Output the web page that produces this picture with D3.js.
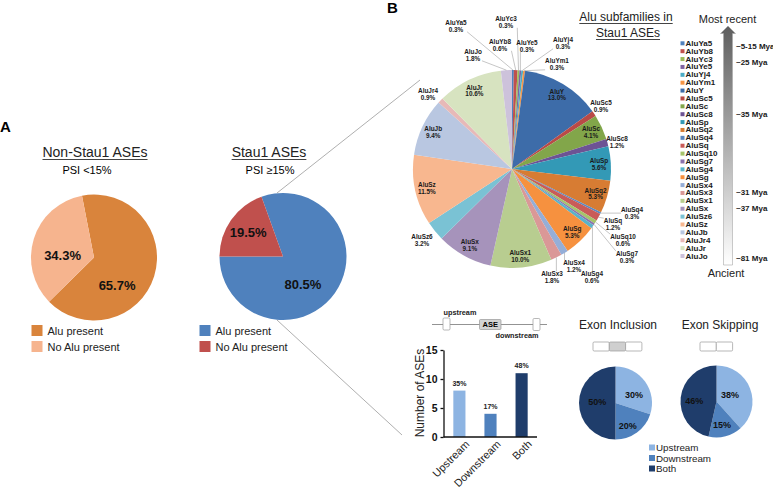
<!DOCTYPE html>
<html><head><meta charset="utf-8">
<script src="https://cdn.jsdelivr.net/npm/d3@7"></script>
<style>
body{margin:0;background:#fff}
svg{display:block;font-family:"Liberation Sans",Arial,sans-serif}
</style>
</head><body>
<svg id="c" width="773" height="492"></svg>
<script>
// ---------------- DATA ----------------
const presenceCats = ["Alu present", "No Alu present"];
const nonStauPct = [65.7, 34.3];
const stauPct = [80.5, 19.5];

const subfamilies = ["AluYa5","AluYb8","AluYc3","AluYe5","AluYj4","AluYm1","AluY","AluSc5","AluSc","AluSc8",
  "AluSp","AluSq2","AluSq4","AluSq","AluSq10","AluSg7","AluSg4","AluSg","AluSx4","AluSx3",
  "AluSx1","AluSx","AluSz6","AluSz","AluJb","AluJr4","AluJr","AluJo"];
const subfamilyPct = [0.3,0.6,0.3,0.3,0.3,0.3,13.0,0.9,4.1,1.2,
  5.6,5.3,0.3,1.2,0.6,0.3,0.6,5.3,1.2,1.8,
  10.0,9.1,3.2,11.5,9.4,0.9,10.6,1.8];
const subfamilyColors = ["#4F81BD","#C0504D","#9BBB59","#8064A2","#4BACC6","#F79646","#3D6CA9","#B94A47","#82A64A","#6D5394",
  "#3399B6","#D77C33","#5A87C0","#C95B58","#A6C46A","#8B72AC","#5AB3CA","#F6913F","#95AED8","#DA9897",
  "#B8CD90","#A693BB","#7AC2D4","#F8B78F","#B9C7E1","#E7B9B8","#D7E3C0","#CDC2DB"];
const myaLabels = ["~5-15 Mya","~25 Mya","~35 Mya","~31 Mya","~37 Mya","~81 Mya"];
const myaRow = [0.45, 2.5, 9.1, 19, 21, 27.3];

const regionCats = ["Upstream","Downstream","Both"];
const regionCounts = [8, 4, 11];
const regionPctLabels = ["35%","17%","48%"];
const yTicks = [0, 5, 10, 15];
const inclusionPct = [30, 20, 50];
const skippingPct = [38, 15, 46];

// ---------------- STYLE / LAYOUT ----------------
const svg = d3.select("#c");
const presenceColorsA = ["#D9843C", "#F6B48E"];
const presenceColorsB = ["#4F81BD", "#C0504D"];
const regionColors = ["#8DB4E2", "#4F81BD", "#1F3D6B"];
const rad = d => d * Math.PI / 180;

function pieChart(cx, cy, r, values, colors, startDeg, labelPolar, fontSize, fmt) {
  const pie = d3.pie().sort(null).value(d => d)
    .startAngle(rad(startDeg)).endAngle(rad(startDeg) + 2 * Math.PI);
  const arc = d3.arc().innerRadius(0).outerRadius(r);
  const g = svg.append("g").attr("transform", `translate(${cx},${cy})`);
  g.selectAll("path").data(pie(values)).join("path")
    .attr("d", arc).attr("fill", (d, i) => colors[i]);
  g.selectAll("text").data(pie(values)).join("text")
    .attr("x", (d, i) => r * labelPolar[i][1] * Math.sin(rad(labelPolar[i][0])))
    .attr("y", (d, i) => -r * labelPolar[i][1] * Math.cos(rad(labelPolar[i][0])))
    .attr("text-anchor", "middle").attr("dominant-baseline", "central")
    .attr("font-weight", "bold").attr("font-size", fontSize).attr("fill", "#111")
    .text(d => fmt(d.data));
}

function underlinedText(x, y, txt, size, anchor) {
  const t = svg.append("text").attr("x", x).attr("y", y).attr("text-anchor", anchor || "middle")
    .attr("font-size", size).attr("fill", "#222").text(txt);
  const b = t.node().getBBox();
  svg.append("line").attr("x1", b.x).attr("x2", b.x + b.width)
    .attr("y1", y + 2.5).attr("y2", y + 2.5).attr("stroke", "#444").attr("stroke-width", 1);
}

// ---------------- PANEL A ----------------
svg.append("text").attr("x", 0).attr("y", 132).attr("font-size", 15).attr("font-weight", "bold").text("A");
svg.append("text").attr("x", 387).attr("y", 13).attr("font-size", 15).attr("font-weight", "bold").text("B");

underlinedText(95, 157, "Non-Stau1 ASEs", 14);
svg.append("text").attr("x", 87).attr("y", 174).attr("text-anchor", "middle").attr("font-size", 11).text("PSI <15%");
underlinedText(269, 157, "Stau1 ASEs", 14);
svg.append("text").attr("x", 270).attr("y", 174).attr("text-anchor", "middle").attr("font-size", 11).text("PSI \u226515%");

pieChart(94, 257.5, 63, nonStauPct, presenceColorsA, -11, [[140, 0.57], [274, 0.5]], 13, v => v.toFixed(1) + "%");
pieChart(283, 256.5, 63.5, stauPct, presenceColorsB, -19.8, [[144.5, 0.54], [305, 0.67]], 13, v => v.toFixed(1) + "%");

function presenceLegend(x, colors) {
  presenceCats.forEach((c, i) => {
    const y = 330.5 + i * 16;
    svg.append("rect").attr("x", x).attr("y", y - 5.5).attr("width", 11).attr("height", 11).attr("fill", colors[i]);
    svg.append("text").attr("x", x + 16).attr("y", y).attr("dominant-baseline", "central")
      .attr("font-size", 11).attr("fill", "#222").text(c);
  });
}
presenceLegend(31.5, presenceColorsA);
presenceLegend(199.5, presenceColorsB);

// connector lines (zoom)
svg.append("line").attr("x1", 277).attr("y1", 193).attr("x2", 420).attr("y2", 80)
  .attr("stroke", "#9a9a9a").attr("stroke-width", 0.8);
svg.append("line").attr("x1", 277).attr("y1", 320).attr("x2", 402).attr("y2", 435)
  .attr("stroke", "#9a9a9a").attr("stroke-width", 0.8);

// ---------------- BIG PIE ----------------
const PC = [512, 169], PR = 99;
const bigPie = d3.pie().sort(null).value(d => d)(subfamilyPct);
const bigArc = d3.arc().innerRadius(0).outerRadius(PR);
const edgeArc = d3.arc().innerRadius(PR).outerRadius(PR);
const inArc = d3.arc().innerRadius(PR * 0.88).outerRadius(PR * 0.88);
const gp = svg.append("g").attr("transform", `translate(${PC[0]},${PC[1]})`);
gp.selectAll("path").data(bigPie).join("path")
  .attr("d", bigArc).attr("fill", (d, i) => subfamilyColors[i]);

const outsideLabelPos = {
  AluYa5: [-56, -143], AluYb8: [-12, -124], AluYc3: [-6, -147], AluYe5: [15, -123],
  AluYj4: [51, -126], AluYm1: [45, -105], AluSc5: [89, -63], AluSc8: [105, -27],
  AluSq4: [120, 44], AluSq: [101, 55], AluSq10: [111, 71], AluSg7: [115, 88],
  AluSg4: [80, 108], AluSx4: [62, 97], AluSx3: [40, 108], AluSz6: [-90, 71],
  AluJr4: [-84, -75], AluJo: [-39, -114]
};
const labelLayer = gp.append("g");
bigPie.forEach((d, i) => {
  const name = subfamilies[i];
  const pctTxt = subfamilyPct[i].toFixed(1) + "%";
  let cx, cy;
  const outside = outsideLabelPos[name];
  if (outside) { cx = outside[0]; cy = outside[1]; }
  else { [cx, cy] = inArc.centroid(d); }
  const tg = labelLayer.append("g");
  [name, pctTxt].forEach((s, k) => {
    tg.append("text").attr("x", cx).attr("y", cy + (k === 0 ? -3.3 : 3.3))
      .attr("text-anchor", "middle").attr("dominant-baseline", "central")
      .attr("font-size", 6.4).attr("font-weight", "bold").attr("fill", "#1a1a1a").text(s);
  });
  if (outside) {
    const b = tg.node().getBBox();
    const [ex, ey] = edgeArc.centroid(d);
    const nx = Math.max(b.x, Math.min(ex, b.x + b.width));
    const ny = Math.max(b.y + 1, Math.min(ey, b.y + b.height - 1));
    if (Math.hypot(nx - ex, ny - ey) > 5) {
      labelLayer.append("line").attr("x1", ex).attr("y1", ey).attr("x2", nx).attr("y2", ny)
        .attr("stroke", "#a0a0a0").attr("stroke-width", 0.6);
    }
  }
});

// ---------------- LEGEND (subfamilies) ----------------
underlinedText(626, 21, "Alu subfamilies in", 12);
underlinedText(628, 37, "Stau1 ASEs", 12);
const ly = d3.scaleLinear().domain([0, subfamilies.length - 1]).range([43.3, 256]);
const lg = svg.append("g");
subfamilies.forEach((s, i) => {
  lg.append("rect").attr("x", 680.5).attr("y", ly(i) - 2).attr("width", 4).attr("height", 4).attr("fill", subfamilyColors[i]);
  lg.append("text").attr("x", 685.5).attr("y", ly(i)).attr("dominant-baseline", "central")
    .attr("font-size", 8).attr("font-weight", "bold").attr("fill", "#1a1a1a").text(s);
});
myaLabels.forEach((m, i) => {
  lg.append("text").attr("x", 736).attr("y", ly(myaRow[i])).attr("dominant-baseline", "central")
    .attr("font-size", 8).attr("font-weight", "bold").attr("fill", "#1a1a1a").text(m);
});
const defs = svg.append("defs");
const grad = defs.append("linearGradient").attr("id", "ag").attr("x1", 0).attr("y1", 0).attr("x2", 0).attr("y2", 1);
grad.append("stop").attr("offset", "0%").attr("stop-color", "#5e5e5e");
grad.append("stop").attr("offset", "100%").attr("stop-color", "#ffffff");
svg.append("path")
  .attr("d", "M723.5,265 L723.5,33.5 L720.5,33.5 L728,26 L735.5,33.5 L732.5,33.5 L732.5,265 Z")
  .attr("fill", "url(#ag)").attr("stroke", "#a8a8a8").attr("stroke-width", 0.6);
svg.append("text").attr("x", 727.5).attr("y", 23).attr("text-anchor", "middle").attr("font-size", 11).attr("fill", "#222").text("Most recent");
svg.append("text").attr("x", 726).attr("y", 277).attr("text-anchor", "middle").attr("font-size", 11).attr("fill", "#222").text("Ancient");

// ---------------- GENE DIAGRAM ----------------
const dg = svg.append("g");
dg.append("line").attr("x1", 432).attr("x2", 547).attr("y1", 324.5).attr("y2", 324.5).attr("stroke", "#777").attr("stroke-width", 0.8);
dg.append("rect").attr("x", 443).attr("y", 318).attr("width", 7).attr("height", 12).attr("rx", 1.2)
  .attr("fill", "#fff").attr("stroke", "#999").attr("stroke-width", 0.7);
dg.append("rect").attr("x", 533).attr("y", 318.5).attr("width", 7).attr("height", 12).attr("rx", 1.2)
  .attr("fill", "#fff").attr("stroke", "#999").attr("stroke-width", 0.7);
dg.append("rect").attr("x", 479.5).attr("y", 319.5).attr("width", 21.5).attr("height", 10).attr("rx", 1)
  .attr("fill", "#d3d3d3").attr("stroke", "#999").attr("stroke-width", 0.7);
dg.append("text").attr("x", 490.2).attr("y", 324.8).attr("text-anchor", "middle").attr("dominant-baseline", "central")
  .attr("font-size", 7.5).attr("font-weight", "bold").text("ASE");
dg.append("text").attr("x", 460).attr("y", 312).attr("text-anchor", "middle").attr("dominant-baseline", "central")
  .attr("font-size", 7.3).attr("font-weight", "bold").attr("fill", "#222").text("upstream");
dg.append("text").attr("x", 517).attr("y", 335).attr("text-anchor", "middle").attr("dominant-baseline", "central")
  .attr("font-size", 7.3).attr("font-weight", "bold").attr("fill", "#222").text("downstream");

// ---------------- BAR CHART ----------------
const x = d3.scaleBand().domain(regionCats).range([444, 537]).paddingInner(0.61).paddingOuter(0.3);
const y = d3.scaleLinear().domain([0, 15]).range([437, 350]);
const bg = svg.append("g");
bg.selectAll("rect").data(regionCounts).join("rect")
  .attr("x", (d, i) => x(regionCats[i])).attr("width", x.bandwidth())
  .attr("y", d => y(d)).attr("height", d => y(0) - y(d))
  .attr("fill", (d, i) => regionColors[i]);
bg.selectAll("text.pl").data(regionCounts).join("text").attr("class", "pl")
  .attr("x", (d, i) => x(regionCats[i]) + x.bandwidth() / 2).attr("y", d => y(d) - 5)
  .attr("text-anchor", "middle").attr("font-size", 7).attr("font-weight", "bold").attr("fill", "#222")
  .text((d, i) => regionPctLabels[i]);
const yAxis = svg.append("g").attr("transform", "translate(443.5,0)")
  .call(d3.axisLeft(y).tickValues(yTicks).tickSize(3).tickSizeOuter(0).tickPadding(3));
yAxis.selectAll("text").attr("font-size", 10.5).attr("font-weight", "bold").attr("fill", "#111")
  .attr("font-family", '"Liberation Sans",Arial,sans-serif');
yAxis.selectAll("line,path").attr("stroke", "#111").attr("stroke-width", 1.3);
const xAxis = svg.append("g").attr("transform", "translate(0,437)")
  .call(d3.axisBottom(x).tickSize(0).tickSizeOuter(0).tickPadding(3));
xAxis.select("path").attr("d", "M443.5,0H537").attr("stroke", "#111").attr("stroke-width", 1.3);
xAxis.selectAll("text").attr("font-size", 10.8).attr("fill", "#222")
  .attr("font-family", '"Liberation Sans",Arial,sans-serif')
  .attr("text-anchor", "end").attr("dy", "0.35em")
  .attr("transform", "translate(6,3) rotate(-45)");
svg.append("text").attr("transform", "translate(424,393) rotate(-90)").attr("text-anchor", "middle")
  .attr("font-size", 12).attr("fill", "#222").text("Number of ASEs");

// ---------------- EXON PIES ----------------
svg.append("text").attr("x", 618).attr("y", 329).attr("text-anchor", "middle").attr("font-size", 12).attr("fill", "#222").text("Exon Inclusion");
svg.append("text").attr("x", 720).attr("y", 329).attr("text-anchor", "middle").attr("font-size", 12).attr("fill", "#222").text("Exon Skipping");
function exonIcon(x0, n, fillIdx) {
  const w = 16.3;
  for (let i = 0; i < n; i++) {
    svg.append("rect").attr("x", x0 + i * w).attr("y", 342).attr("width", w).attr("height", 9).attr("rx", 1.2)
      .attr("fill", i === fillIdx ? "#cfcfcf" : "#fff").attr("stroke", "#9a9a9a").attr("stroke-width", 0.7);
  }
}
exonIcon(593, 3, 1);
exonIcon(700, 2, -1);
pieChart(615.5, 403, 36.5, inclusionPct, regionColors, 0, [[66.6, 0.55], [151.5, 0.71], [273, 0.5]], 9, v => v + "%");
pieChart(716.5, 401.5, 36, skippingPct, regionColors, 0, [[64, 0.42], [167, 0.68], [271, 0.62]], 9, v => v + "%");
regionCats.forEach((c, i) => {
  const yy = 447.5 + i * 10.5;
  svg.append("rect").attr("x", 649).attr("y", yy - 3).attr("width", 6).attr("height", 6).attr("fill", regionColors[i]);
  svg.append("text").attr("x", 656).attr("y", yy).attr("dominant-baseline", "central")
    .attr("font-size", 9.8).attr("fill", "#222").text(c);
});
</script>
</body></html>
